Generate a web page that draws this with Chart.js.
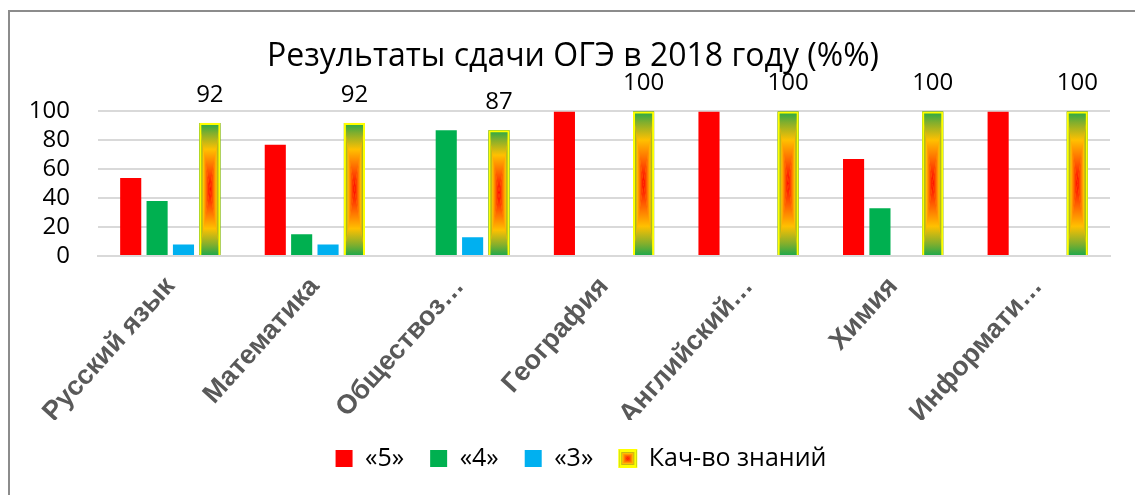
<!DOCTYPE html>
<html>
<head>
<meta charset="utf-8">
<script src="https://cdn.jsdelivr.net/npm/chart.js@4.4.0/dist/chart.umd.min.js"></script>
<style>
  body { margin: 0; background: #fff; }
  #wrap { position: relative; width: 1135px; height: 495px; overflow: hidden; }
  #frame { position: absolute; left: 8px; top: 10px; width: 1300px; height: 600px;
           border-left: 2px solid #8c8c8c; border-top: 2px solid #8c8c8c; }
  canvas { position: absolute; left: 0; top: 0; }
</style>
</head>
<body>
<div id="wrap">
  <canvas id="chart" width="1135" height="495"></canvas>
  <div id="frame"></div>
</div>
<script>
const subjects = ["Русский язык", "Математика", "Обществоз…", "География", "Английский…", "Химия", "Информати…"];
const grade5 = [54, 77, null, 100, 100, 67, 100];
const grade4 = [38, 15, 87, null, null, 33, null];
const grade3 = [8, 8, 13, null, null, null, null];
const quality = [92, 92, 87, 100, 100, 100, 100];
const yTicks = [0, 20, 40, 60, 80, 100];

const textFont = "'Open Sans', 'Noto Sans', sans-serif";
const legendSize = 25;
const legendBox = 17;
const legendShift = 26;

// Excel-like rectangular "path" gradient: red centre, orange ring, green edges
function gradStops(g) {
    g.addColorStop(0, '#ff0000');
    g.addColorStop(0.35, '#ff7000');
    g.addColorStop(0.6, '#ffc000');
    g.addColorStop(0.85, '#7fae2e');
    g.addColorStop(1, '#22a84a');
}

function paintQuality(ctx, l, t, r, b) {
    const cx = (l + r) / 2, cy = (t + b) / 2;
    ctx.save();
    ctx.fillStyle = '#ffb000';
    ctx.fillRect(l, t, r - l, b - t);
    const parts = [
        [[l, t], [r, t], cx, t],
        [[l, b], [r, b], cx, b],
        [[l, t], [l, b], l, cy],
        [[r, t], [r, b], r, cy]
    ];
    parts.forEach(([p1, p2, gx, gy]) => {
        const g = ctx.createLinearGradient(cx, cy, gx, gy);
        gradStops(g);
        ctx.beginPath();
        ctx.moveTo(cx, cy);
        ctx.lineTo(p1[0], p1[1]);
        ctx.lineTo(p2[0], p2[1]);
        ctx.closePath();
        ctx.fillStyle = g;
        ctx.fill();
    });
    ctx.restore();
}

const qualityPlugin = {
    id: 'qualityBars',
    afterLayout(chart) {
        // title and legend in the original sit a bit right of the canvas centre
        chart.titleBlock.left += 36;
        chart.legend.left += legendShift * 2;
    },
    beforeDatasetDraw(chart, args) {
        if (args.index !== 3) return;
        const ctx = chart.ctx;
        args.meta.data.forEach(el => {
            const p = el.getProps(['x', 'y', 'base', 'width'], true);
            paintQuality(ctx, p.x - p.width / 2, p.y, p.x + p.width / 2, p.base);
        });
    },
    afterDatasetsDraw(chart) {
        const ctx = chart.ctx;
        const meta = chart.getDatasetMeta(3);
        ctx.save();
        ctx.font = "24px " + textFont;
        ctx.fillStyle = '#000';
        ctx.textAlign = 'center';
        ctx.textBaseline = 'middle';
        meta.data.forEach((el, i) => {
            ctx.fillText(quality[i], el.x, el.y - 28);
        });
        ctx.restore();
    },
    afterDraw(chart) {
        const lg = chart.legend;
        const hb = lg.legendHitBoxes[3];
        if (!hb) return;
        const bw = legendBox, bh = legendBox;
        const x = hb.left;
        const y = hb.top + Math.max((legendSize - bh) / 2, 0);
        const ctx = chart.ctx;
        paintQuality(ctx, x, y, x + bw, y + bh);
        ctx.save();
        ctx.strokeStyle = '#ffff00';
        ctx.lineWidth = 2;
        ctx.strokeRect(x + 1, y + 1, bw - 2, bh - 2);
        ctx.restore();
    }
};

const ctx = document.getElementById('chart').getContext('2d');

new Chart(ctx, {
    type: 'bar',
    data: {
        labels: subjects,
        datasets: [
            { label: '«5»', data: grade5, backgroundColor: '#ff0000', borderWidth: 0 },
            { label: '«4»', data: grade4, backgroundColor: '#00b050', borderWidth: 0 },
            { label: '«3»', data: grade3, backgroundColor: '#00b0f0', borderWidth: 0 },
            { label: 'Кач-во знаний', data: quality, backgroundColor: 'rgba(0,0,0,0)',
              borderColor: '#ffff00', borderWidth: 2 }
        ]
    },
    options: {
        responsive: false,
        animation: false,
        categoryPercentage: 0.73,
        barPercentage: 0.8,
        layout: { padding: { left: 0, right: 25, top: 0, bottom: 14 } },
        plugins: {
            title: {
                display: true,
                text: 'Результаты сдачи ОГЭ в 2018 году (%%)',
                color: '#000',
                font: { family: textFont, size: 32, weight: 'normal' },
                padding: { top: 38, bottom: 35 }
            },
            legend: {
                position: 'bottom',
                labels: {
                    color: '#000',
                    font: { family: textFont, size: legendSize },
                    boxWidth: legendBox,
                    boxHeight: legendBox,
                    padding: 26
                }
            },
            tooltip: { enabled: false }
        },
        scales: {
            x: {
                grid: { display: false },
                border: { color: '#d9d9d9', width: 2 },
                ticks: {
                    color: '#595959',
                    font: { family: "'Liberation Sans', Arial, sans-serif", size: 27, weight: 'bold' },
                    minRotation: 48,
                    maxRotation: 48,
                    autoSkip: false,
                    labelOffset: 0,
                    padding: 7
                },
                afterFit(s) {
                    s.height = s.chart.height - 256 - s.chart.legend.height - 14;
                }
            },
            y: {
                min: 0,
                max: 100,
                border: { display: false },
                grid: { color: '#d9d9d9', lineWidth: 2, drawTicks: false },
                ticks: {
                    color: '#000',
                    font: { family: textFont, size: 24 },
                    padding: 28,
                    autoSkip: false
                },
                afterBuildTicks(s) {
                    s.ticks = yTicks.map(v => ({ value: v }));
                },
                afterFit(s) {
                    s.width = 98;
                }
            }
        }
    },
    plugins: [qualityPlugin]
});
</script>
</body>
</html>
